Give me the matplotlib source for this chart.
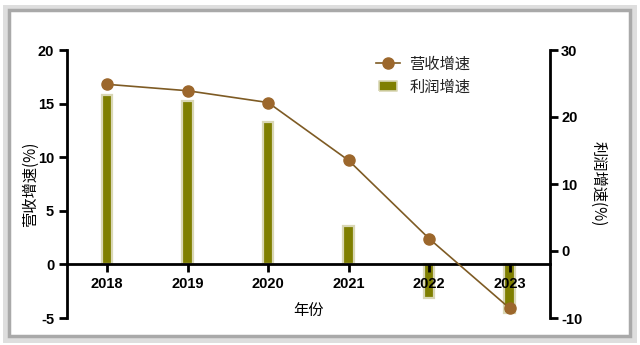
import matplotlib
matplotlib.use("Agg")
import matplotlib.pyplot as plt
from matplotlib.patches import Rectangle
from matplotlib.lines import Line2D

years = ["2018", "2019", "2020", "2021", "2022", "2023"]
revenue_growth = [16.8, 16.2, 15.1, 9.7, 2.4, -4.1]     # 营收增速 (left axis)
profit_growth = [23.3, 22.4, 19.3, 3.8, -7.0, -9.3]     # 利润增速 (right axis)
left_ticks = [-5, 0, 5, 10, 15, 20]
right_ticks = [-10, 0, 10, 20, 30]

line_color = "#7E5B24"
marker_color = "#9C672C"
bar_color = "#7F7F00"
bar_edge = "#D9D7B5"

cjk = ["Noto Sans CJK SC", "DejaVu Sans"]
tickfont = dict(family="Liberation Sans", weight="bold", size=10.5)

fig = plt.figure(figsize=(6.4, 3.45), dpi=100)
fig.patch.set_facecolor("white")

# outer frame
fig.patches.append(Rectangle((6/640, 6/345), 627/640, 331/345, transform=fig.transFigure,
                             fill=False, edgecolor="#dedede", lw=5, zorder=0))
fig.patches.append(Rectangle((9/640, 9/345), 621/640, 326/345, transform=fig.transFigure,
                             fill=False, edgecolor="#a9a9a9", lw=2.5, zorder=1))

ax = fig.add_axes([66.7/640, 1-318/345, (550-66.7)/640, (318-50)/345])
ax2 = ax.twinx()
ax.set_zorder(ax2.get_zorder() + 1)
ax.patch.set_visible(False)

x = list(range(len(years)))
ax.set_xlim(-0.5, len(years) - 0.5)
ax.set_ylim(-5, 20)
ax2.set_ylim(-10, 30)

# baseline for bars: where the x-axis (left 0) sits on the right scale
lo, hi = ax.get_ylim()
rlo, rhi = ax2.get_ylim()
base = rlo + (0 - lo) / (hi - lo) * (rhi - rlo)
heights = [v - base for v in profit_growth]
ax2.bar(x, heights, bottom=base, width=0.13, color=bar_color, edgecolor=bar_edge, linewidth=1.6)

ax.plot(x, revenue_growth, color=line_color, lw=1.2, marker="o", ms=8,
        mfc=marker_color, mec=marker_color, zorder=5)

# spines
for s in ["top", "right"]:
    ax.spines[s].set_visible(False)
ax.spines["bottom"].set_position(("data", 0))
ax.spines["left"].set_linewidth(2)
ax.spines["bottom"].set_linewidth(2)
for s in ["top", "left", "bottom"]:
    ax2.spines[s].set_visible(False)
ax2.spines["right"].set_linewidth(2)

ax.set_xticks(x)
ax.set_xticklabels(years)
ax.set_yticks(left_ticks)
ax.set_yticklabels([str(t) for t in left_ticks])
ax2.set_yticks(right_ticks)
ax2.set_yticklabels([str(t) for t in right_ticks])

ax.tick_params(axis="both", direction="out", length=6, width=2, pad=3)
ax2.tick_params(axis="y", direction="out", length=6, width=2, pad=2)
for lab in ax.get_xticklabels() + ax.get_yticklabels() + ax2.get_yticklabels():
    lab.set_fontfamily(tickfont["family"])
    lab.set_fontweight(tickfont["weight"])
    lab.set_fontsize(tickfont["size"])

fig.text(30/640, 1-184/345, "营收增速(%)", rotation=90, ha="center", va="center",
         family=cjk, fontsize=11)
fig.text(598/640, 1-184/345, "利润增速(%)", rotation=270, ha="center", va="center",
         family=cjk, fontsize=11)
fig.text(308/640, 1-310/345, "年份", ha="center", va="center", family=cjk, fontsize=11)

rect_marker = [(-1, -0.5), (1, -0.5), (1, 0.5), (-1, 0.5), (-1, -0.5)]
handles = [
    Line2D([0], [0], color=line_color, lw=1.2, marker="o", ms=8, mfc=marker_color, mec=marker_color),
    Line2D([0], [0], ls="none", marker=rect_marker, ms=13, mfc=bar_color, mec=bar_edge, mew=1.2),
]
leg = fig.legend(handles, ["营收增速", "利润增速"], loc="upper left",
                 bbox_to_anchor=(365/640, 1-45/345), bbox_transform=fig.transFigure,
                 frameon=False, prop={"family": cjk, "size": 11}, handlelength=1.6,
                 handletextpad=0.6, labelspacing=0.4, borderpad=0.2)
for t in leg.get_texts():
    t.set_color("#222222")

fig.savefig("out.png", dpi=100)
